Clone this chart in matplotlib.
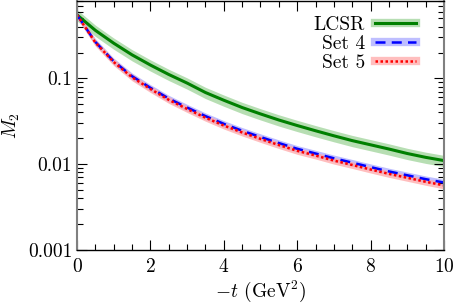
import numpy as np
import matplotlib
matplotlib.use('Agg')
import matplotlib.pyplot as plt
from matplotlib.lines import Line2D
from matplotlib.ticker import MultipleLocator, LogLocator, FixedLocator, FixedFormatter, NullFormatter

plt.rcParams['font.family'] = 'serif'
plt.rcParams['font.serif'] = ['cmr10']
plt.rcParams['mathtext.fontset'] = 'cm'
plt.rcParams['axes.unicode_minus'] = False
plt.rcParams['axes.formatter.use_mathtext'] = True

# -t (GeV^2)
t = [0.0, 0.5, 1.0, 1.5, 2.0, 2.5, 3.0, 3.5, 4.0, 4.5, 5.0,
     5.5, 6.0, 6.5, 7.0, 7.5, 8.0, 8.5, 9.0, 9.5, 10.0]
lcsr = [0.550, 0.363, 0.257, 0.188, 0.143, 0.111, 0.0881, 0.0684, 0.0556, 0.0457, 0.0385,
        0.0327, 0.0282, 0.0245, 0.0214, 0.0188, 0.0168, 0.0150, 0.0133, 0.0120, 0.0110]
set4 = [0.550, 0.266, 0.158, 0.106, 0.0776, 0.0582, 0.0457, 0.0363, 0.0295, 0.0245, 0.0207,
        0.0176, 0.0151, 0.0133, 0.0117, 0.0104, 0.00923, 0.00822, 0.00741, 0.00668, 0.00610]
set5 = [0.550, 0.262, 0.155, 0.103, 0.0752, 0.0562, 0.0440, 0.0348, 0.0282, 0.0234, 0.0197,
        0.0167, 0.0143, 0.0126, 0.0110, 0.00978, 0.00866, 0.00770, 0.00693, 0.00623, 0.00565]
# relative half-widths of the uncertainty bands
lcsr_err = 0.15
set4_err = 0.09
set5_err = 0.09

labels = ['LCSR', 'Set 4', 'Set 5']
ytick_vals = [0.001, 0.01, 0.1]
ytick_labels = ['0.001', '0.01', '0.1']

t = np.array(t)
series = [
    (np.array(lcsr), lcsr_err, '#008000', '#9fd49a', '-', 2.2),
    (np.array(set4), set4_err, '#0000ff', '#a8a8ff', (0, (4, 2.5)), 1.8),
    (np.array(set5), set5_err, '#ff0000', '#ffa8a8', (0, (1, 1)), 1.8),
]

fig = plt.figure(figsize=(4.53, 3.04), dpi=100)
ax = fig.add_axes([0.170, 0.178, 0.810, 0.819])

handles = []
for (y, err, col, band, ls, lw), lab in zip(series, labels):
    ax.fill_between(t, y * (1 - err), y * (1 + err), color=band, alpha=0.75, lw=0)
    ax.plot(t, y, color=col, linestyle=ls, lw=lw)
    handles.append((Line2D([], [], color=band, lw=6, alpha=0.75),
                    Line2D([], [], color=col, linestyle=ls, lw=lw)))

ax.set_yscale('log')
ax.set_xlim(0, 10)
ax.set_ylim(0.001, 0.8)

ax.xaxis.set_major_locator(MultipleLocator(2))
ax.xaxis.set_minor_locator(MultipleLocator(0.5))
ax.yaxis.set_major_locator(FixedLocator(ytick_vals))
ax.yaxis.set_major_formatter(FixedFormatter(ytick_labels))
ax.yaxis.set_minor_locator(LogLocator(base=10, subs=np.arange(2, 10)))
ax.yaxis.set_minor_formatter(NullFormatter())

ax.tick_params(which='both', direction='in', top=True, right=True, labelsize=14)
ax.tick_params(which='major', length=7, width=0.8)
ax.tick_params(which='minor', length=4, width=0.8)
ax.tick_params(axis='x', pad=6)

for side in ['left', 'right']:
    ax.spines[side].set_color('#808080')
    ax.spines[side].set_linewidth(1.5)
for side in ['top', 'bottom']:
    ax.spines[side].set_linewidth(1.0)

ax.set_xlabel(r'$-t$ (GeV$^2$)', fontsize=14, labelpad=2)
ax.set_ylabel(r'$M_2$', fontsize=14, labelpad=4)

ax.legend(handles, labels, loc='upper right', bbox_to_anchor=(0.955, 0.985),
          frameon=False, markerfirst=False, fontsize=14, handlelength=2.1,
          labelspacing=0.05, handletextpad=0.5, borderaxespad=0.3, borderpad=0.3)

fig.savefig('out.png', dpi=100)
